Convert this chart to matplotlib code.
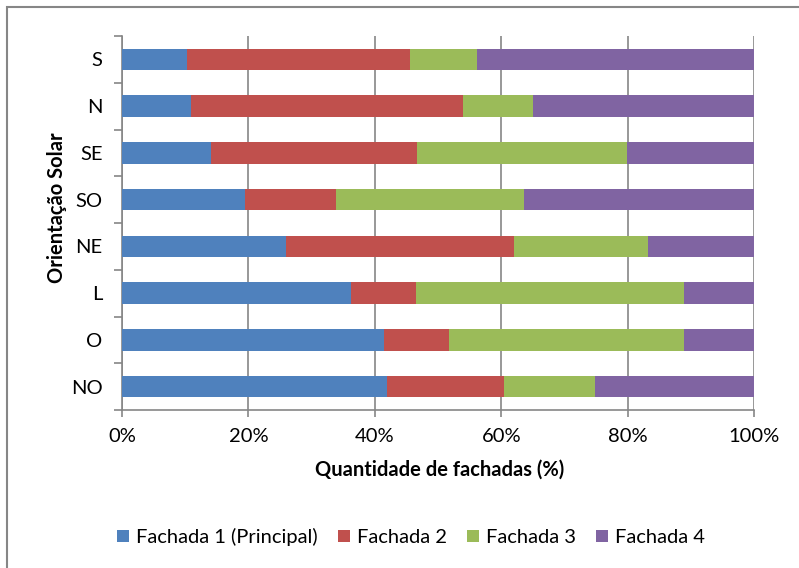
import matplotlib.pyplot as plt
import matplotlib.patches as mpatches
import numpy as np

# Orientations, bottom to top as drawn
orientacoes = ['NO', 'O', 'L', 'NE', 'SO', 'SE', 'N', 'S']
series = ['Fachada 1 (Principal)', 'Fachada 2', 'Fachada 3', 'Fachada 4']

# Shares (%)
fachada1 = [41.9, 41.4, 36.2, 25.9, 19.5, 14.1, 10.9, 10.3]
fachada2 = [18.6, 10.3, 10.3, 36.2, 14.3, 32.5, 43.1, 35.3]
fachada3 = [14.3, 37.2, 42.4, 21.1, 29.8, 33.3, 11.0, 10.6]
fachada4 = [25.2, 11.1, 11.1, 16.8, 36.4, 20.1, 35.0, 43.8]

cores = ['#4F81BD', '#C0504D', '#9BBB59', '#8064A2']
cinza = '#868686'

plt.rcParams['font.family'] = ['Lato', 'DejaVu Sans']
fs = 14.5

fig = plt.figure(figsize=(7.99, 5.68), dpi=100)
W, H = 799, 568
ax = fig.add_axes([122 / W, 1 - 410 / H, 632 / W, 374 / H])

y = np.arange(len(orientacoes))
left = np.zeros(len(orientacoes))
for vals, nome, cor in zip([fachada1, fachada2, fachada3, fachada4], series, cores):
    vals = np.array(vals)
    ax.barh(y, vals, left=left, height=0.46, color=cor, label=nome, zorder=3)
    left = left + vals

ax.set_xlim(0, 100)
ax.set_ylim(-0.5, len(orientacoes) - 0.5)
ax.set_xticks(np.arange(0, 101, 20))
ax.set_xticklabels([f'{v}%' for v in range(0, 101, 20)], fontsize=fs)
ax.set_yticks(y)
ax.set_yticklabels(orientacoes, fontsize=fs)
ax.set_yticks(np.arange(-0.5, len(orientacoes)), minor=True)
ax.tick_params(axis='y', which='major', length=0, pad=14)
ax.tick_params(axis='y', which='minor', length=6, color=cinza, width=1.2)
ax.tick_params(axis='x', length=5, color=cinza, width=1.2, pad=8)
ax.grid(axis='x', color=cinza, linewidth=1.2, zorder=0)
for side in ['top', 'right']:
    ax.spines[side].set_visible(False)
for side in ['left', 'bottom']:
    ax.spines[side].set_color(cinza)
    ax.spines[side].set_linewidth(1.2)

fig.text(440 / W, 1 - 470 / H, 'Quantidade de fachadas (%)', fontsize=fs,
         fontweight='bold', ha='center', va='center')
fig.text(57 / W, 1 - 208 / H, 'Orientação Solar', fontsize=fs,
         fontweight='bold', ha='center', va='center', rotation=90)

fig.legend(loc='center', bbox_to_anchor=(411 / W, 1 - 537 / H), ncol=4,
           frameon=False, fontsize=fs, handlelength=0.6, handleheight=0.6,
           handletextpad=0.35, columnspacing=1.0)

# chart area border
fig.patches.append(mpatches.Rectangle((7 / W, -0.1), 1.2, 1 - 7 / H + 0.1,
                                      transform=fig.transFigure, fill=False,
                                      edgecolor=cinza, linewidth=1.5))

fig.savefig('out.png', dpi=100)
